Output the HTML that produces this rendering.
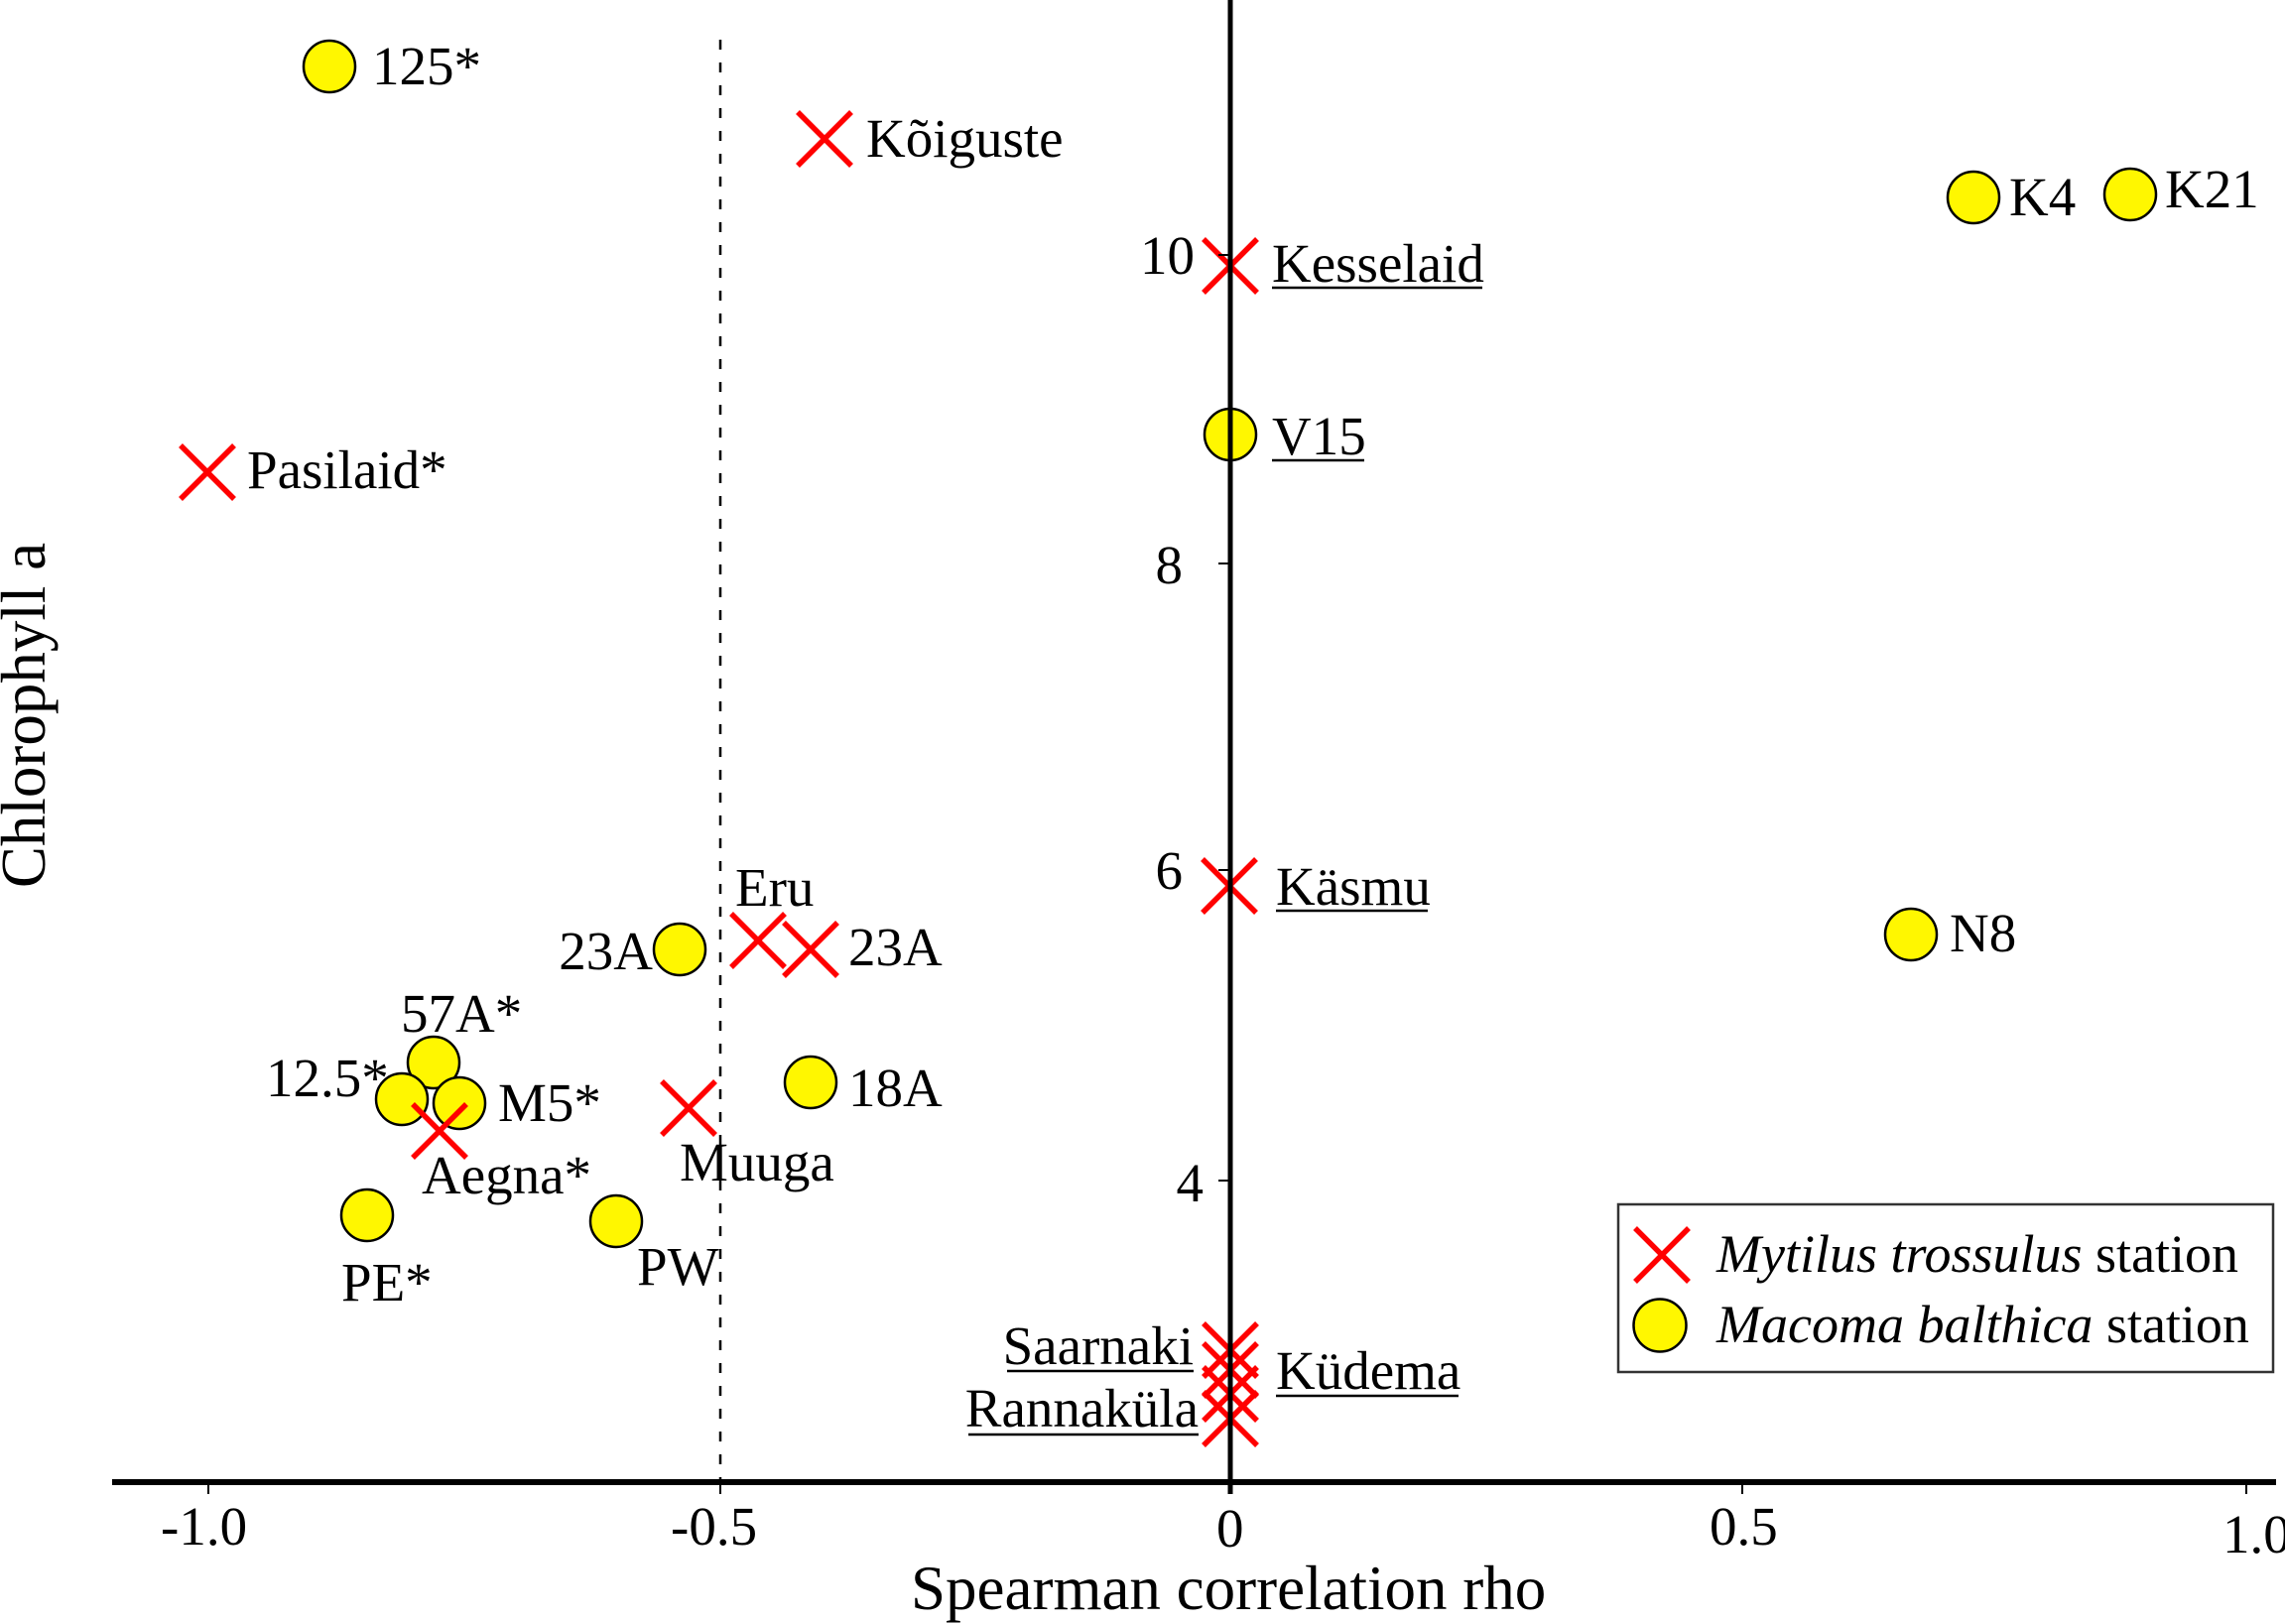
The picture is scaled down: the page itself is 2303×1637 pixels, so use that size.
<!DOCTYPE html>
<html>
<head>
<meta charset="utf-8">
<style>
  html,body{margin:0;padding:0;background:#fff;}
  svg{display:block;}
  text{font-family:"Liberation Serif","Times New Roman",serif;fill:#000;}
</style>
</head>
<body>
<svg width="2303" height="1637" viewBox="0 0 2303 1637" xmlns="http://www.w3.org/2000/svg">
  <rect x="0" y="0" width="2303" height="1637" fill="#fff"/>

  <defs>
    <g id="xm">
      <line x1="-27" y1="-27" x2="27" y2="27" stroke="#ff0000" stroke-width="5.5"/>
      <line x1="-27" y1="27" x2="27" y2="-27" stroke="#ff0000" stroke-width="5.5"/>
    </g>
  </defs>

  <!-- dashed line at -0.5 -->
  <line x1="726" y1="40" x2="726" y2="1494" stroke="#000" stroke-width="2.5" stroke-dasharray="10 13"/>

  <!-- circles (Macoma) -->
  <g fill="#fff700" stroke="#000" stroke-width="2.5">
    <circle cx="332" cy="67" r="26"/>
    <circle cx="1989" cy="199" r="26"/>
    <circle cx="2147" cy="196" r="26"/>
    <circle cx="1240" cy="438" r="26"/>
    <circle cx="1926" cy="942" r="26"/>
    <circle cx="685" cy="957" r="26"/>
    <circle cx="817" cy="1091" r="26"/>
    <circle cx="437" cy="1071" r="26"/>
    <circle cx="405" cy="1108" r="26"/>
    <circle cx="463" cy="1112" r="26"/>
    <circle cx="370" cy="1225" r="26"/>
    <circle cx="621" cy="1231" r="26"/>
  </g>

  <!-- X markers (Mytilus) -->
  <use href="#xm" x="831" y="140"/>
  <use href="#xm" x="209" y="476"/>
  <use href="#xm" x="1240" y="268"/>
  <use href="#xm" x="1239" y="893"/>
  <use href="#xm" x="764" y="948"/>
  <use href="#xm" x="817" y="957"/>
  <use href="#xm" x="443" y="1140"/>
  <use href="#xm" x="694" y="1117"/>
  <use href="#xm" x="1240" y="1361"/>
  <use href="#xm" x="1240" y="1381"/>
  <use href="#xm" x="1240" y="1405"/>
  <use href="#xm" x="1240" y="1430"/>

  <!-- axes -->
  <line x1="1240" y1="0" x2="1240" y2="1506" stroke="#000" stroke-width="5"/>
  <line x1="113" y1="1494" x2="2294" y2="1494" stroke="#000" stroke-width="6"/>

  <!-- ticks -->
  <g stroke="#000" stroke-width="2">
    <line x1="210" y1="1494" x2="210" y2="1506"/>
    <line x1="726" y1="1494" x2="726" y2="1506"/>
    <line x1="1756" y1="1494" x2="1756" y2="1506"/>
    <line x1="2264" y1="1494" x2="2264" y2="1506"/>
    <line x1="1228" y1="257" x2="1240" y2="257"/>
    <line x1="1228" y1="568" x2="1240" y2="568"/>
    <line x1="1228" y1="877" x2="1240" y2="877"/>
    <line x1="1228" y1="1190" x2="1240" y2="1190"/>
  </g>

  <!-- tick labels -->
  <g font-size="55">
    <text x="162" y="1557">-1.0</text>
    <text x="676" y="1557">-0.5</text>
    <text x="1226" y="1559">0</text>
    <text x="1723" y="1557">0.5</text>
    <text x="2240" y="1565">1.0</text>
    <text x="1204" y="276" text-anchor="end">10</text>
    <text x="1192" y="588" text-anchor="end">8</text>
    <text x="1192" y="896" text-anchor="end">6</text>
    <text x="1213" y="1211" text-anchor="end">4</text>
  </g>

  <!-- axis titles -->
  <text x="918" y="1622" font-size="63">Spearman correlation rho</text>
  <text transform="translate(45,721) rotate(-90)" text-anchor="middle" font-size="63">Chlorophyll a</text>

  <!-- point labels -->
  <g font-size="55">
    <text x="375" y="85">125*</text>
    <text x="873" y="158">Kõiguste</text>
    <text x="249" y="492">Pasilaid*</text>
    <text x="1282" y="284">Kesselaid</text>
    <text x="1282" y="458">V15</text>
    <text x="2025" y="217">K4</text>
    <text x="2182" y="209">K21</text>
    <text x="1286" y="912">Käsmu</text>
    <text x="1965" y="959">N8</text>
    <text x="658" y="977" text-anchor="end">23A</text>
    <text x="741" y="913">Eru</text>
    <text x="855" y="973">23A</text>
    <text x="404" y="1040">57A*</text>
    <text x="268" y="1105">12.5*</text>
    <text x="502" y="1130">M5*</text>
    <text x="425" y="1203">Aegna*</text>
    <text x="685" y="1190">Muuga</text>
    <text x="855" y="1115">18A</text>
    <text x="344" y="1311">PE*</text>
    <text x="642" y="1295">PW</text>
    <text x="1203" y="1375" text-anchor="end">Saarnaki</text>
    <text x="1208" y="1438" text-anchor="end">Rannaküla</text>
    <text x="1286" y="1400">Küdema</text>
  </g>

  <!-- underlines -->
  <g stroke="#000" stroke-width="2.5">
    <line x1="1282" y1="290" x2="1494" y2="290"/>
    <line x1="1282" y1="464" x2="1375" y2="464"/>
    <line x1="1286" y1="918" x2="1439" y2="918"/>
    <line x1="1015" y1="1382" x2="1203" y2="1382"/>
    <line x1="976" y1="1446" x2="1208" y2="1446"/>
    <line x1="1286" y1="1407" x2="1470" y2="1407"/>
  </g>

  <!-- legend -->
  <rect x="1631" y="1214" width="660" height="169" fill="#fff" stroke="#333" stroke-width="2.5"/>
  <use href="#xm" x="1675" y="1265"/>
  <circle cx="1673" cy="1336" r="26.5" fill="#fff700" stroke="#000" stroke-width="2.5"/>
  <text x="1730" y="1282" font-size="54"><tspan font-style="italic">Mytilus trossulus</tspan> station</text>
  <text x="1730" y="1353" font-size="54"><tspan font-style="italic">Macoma balthica</tspan> station</text>
</svg>
</body>
</html>
